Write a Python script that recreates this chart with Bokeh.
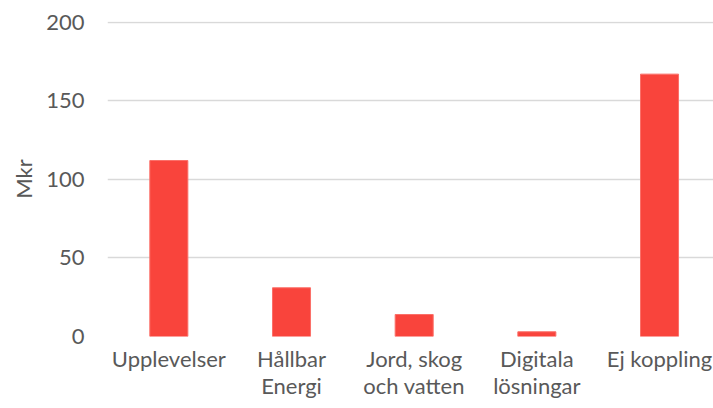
from bokeh.plotting import figure
from bokeh.models import Range1d, FixedTicker, ColumnDataSource
from bokeh.embed import file_html
from bokeh.resources import INLINE

categories = ["Upplevelser", "Hållbar\nEnergi", "Jord, skog\noch vatten", "Digitala\nlösningar", "Ej koppling"]
values = [112, 31, 14, 3, 167]
y_ticks = [0, 50, 100, 150, 200]

xs = [i + 0.5 for i in range(len(categories))]
src = ColumnDataSource(dict(x=xs, top=values))

FONT = "Lato"
TXT = "#595959"

p = figure(width=713, height=408, output_backend="svg", toolbar_location=None,
           x_range=Range1d(0, 4.94), y_range=Range1d(0, 200.5),
           min_border_left=107, min_border_right=0, min_border_top=21, min_border_bottom=72)
p.outline_line_color = None
p.vbar(x="x", top="top", width=0.31, source=src, fill_color="#F9443C", line_color="#FB6F68", line_width=1)

p.xaxis.ticker = FixedTicker(ticks=xs)
p.xaxis.major_label_overrides = {x: c for x, c in zip(xs, categories)}
p.yaxis.ticker = FixedTicker(ticks=y_ticks)
p.yaxis.axis_label = "Mkr"
for ax in (p.xaxis, p.yaxis):
    ax.axis_line_color = None
    ax.major_tick_line_color = None
    ax.minor_tick_line_color = None
    ax.major_tick_out = 0
    ax.major_tick_in = 0
    ax.major_label_text_font = FONT
    ax.major_label_text_font_size = "22px"
    ax.major_label_text_color = TXT
    ax.axis_label_text_font = FONT
    ax.axis_label_text_font_size = "22px"
    ax.axis_label_text_font_style = "normal"
    ax.axis_label_text_color = TXT
p.xaxis.major_label_text_line_height = 1.0
p.xaxis.major_label_standoff = 8
p.yaxis.major_label_standoff = 23
p.yaxis.axis_label_standoff = 6
p.xgrid.grid_line_color = None
p.ygrid.grid_line_color = "#D9D9D9"
p.ygrid.grid_line_width = 1.5

open("out.html", "w").write(file_html(p, INLINE))
